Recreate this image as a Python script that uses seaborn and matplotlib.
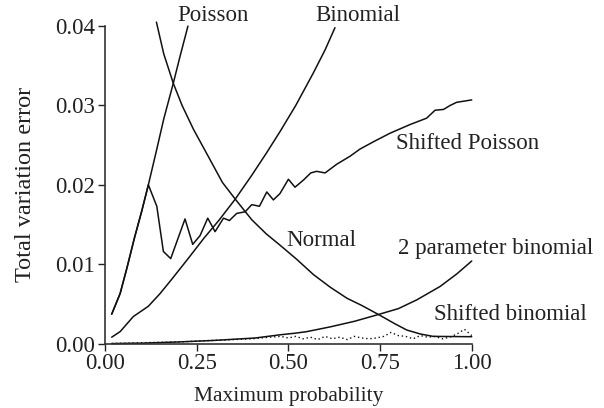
import numpy as np
import pandas as pd
import matplotlib
matplotlib.use("Agg")
import matplotlib.pyplot as plt
import seaborn as sns

# ---- data ----
poisson_x = [0.018, 0.041, 0.06, 0.08, 0.10, 0.118, 0.14, 0.16, 0.186, 0.205, 0.226]
poisson_y = [0.0037, 0.0063, 0.0096, 0.0133, 0.0167, 0.0200, 0.0243, 0.0283, 0.0328, 0.0363, 0.0400]

shpois_x = [0.018, 0.041, 0.06, 0.08, 0.10, 0.118, 0.141, 0.159, 0.179, 0.218, 0.239, 0.259,
            0.280, 0.300, 0.323, 0.339, 0.359, 0.382, 0.400, 0.421, 0.441, 0.459, 0.477,
            0.500, 0.518, 0.541, 0.561, 0.577, 0.600, 0.632, 0.668, 0.695, 0.735, 0.777,
            0.832, 0.877, 0.900, 0.923, 0.941, 0.959, 1.0]
shpois_y = [0.0037, 0.0063, 0.0096, 0.0133, 0.0167, 0.0200, 0.0173, 0.0116, 0.0107, 0.0157,
            0.0125, 0.0136, 0.0158, 0.0141, 0.0158, 0.0155, 0.0164, 0.0166, 0.0175, 0.0173,
            0.0191, 0.0181, 0.0189, 0.0207, 0.0197, 0.0206, 0.0215, 0.0217, 0.0215, 0.0226,
            0.0236, 0.0245, 0.0255, 0.0265, 0.0276, 0.0284, 0.0294, 0.0295, 0.0300, 0.0304,
            0.0307]

binom_x = [0.018, 0.041, 0.077, 0.118, 0.15, 0.18, 0.223, 0.27, 0.31, 0.355, 0.40, 0.44,
           0.477, 0.52, 0.568, 0.60, 0.627]
binom_y = [0.0008, 0.0015, 0.0034, 0.0047, 0.0063, 0.0080, 0.0105, 0.0133, 0.0155, 0.0182,
           0.0212, 0.0240, 0.0267, 0.0300, 0.0341, 0.0370, 0.0398]

normal_x = [0.14, 0.16, 0.186, 0.21, 0.241, 0.28, 0.32, 0.355, 0.40, 0.44, 0.477, 0.523,
            0.568, 0.614, 0.66, 0.70, 0.748, 0.79, 0.823, 0.86, 0.895, 0.95, 1.0]
normal_y = [0.0405, 0.0365, 0.0328, 0.0300, 0.0270, 0.0237, 0.0203, 0.0182, 0.0156, 0.0138,
            0.0124, 0.0106, 0.0087, 0.0071, 0.0057, 0.0048, 0.0036, 0.0025, 0.0017, 0.0012,
            0.0009, 0.00088, 0.00086]

twopar_x = [0.018, 0.1, 0.2, 0.25, 0.3, 0.41, 0.477, 0.518, 0.55, 0.614, 0.68, 0.741,
            0.80, 0.85, 0.914, 0.96, 1.0]
twopar_y = [0.0, 0.00005, 0.0002, 0.0003, 0.0004, 0.0007, 0.0011, 0.0013, 0.0015, 0.0021,
            0.0028, 0.0036, 0.0044, 0.0055, 0.0072, 0.0088, 0.0104]

shbin_x = [0.018, 0.1, 0.2, 0.3, 0.4, 0.45, 0.48, 0.50, 0.52, 0.54, 0.56, 0.58, 0.60, 0.62,
           0.64, 0.66, 0.68, 0.70, 0.72, 0.74, 0.76, 0.78, 0.80, 0.82, 0.84, 0.86, 0.88,
           0.90, 0.92, 0.94, 0.96, 0.98, 1.0]
shbin_y = [0.0, 0.0001, 0.0002, 0.0004, 0.0006, 0.0008, 0.0009, 0.0007, 0.0009, 0.0006,
           0.0008, 0.0005, 0.0009, 0.0006, 0.0008, 0.0005, 0.0009, 0.0007, 0.0006, 0.0007,
           0.0009, 0.0014, 0.0010, 0.0009, 0.0006, 0.0010, 0.0008, 0.0009, 0.0006, 0.0008,
           0.0012, 0.0018, 0.0010]

labels = ["Poisson", "Binomial", "Shifted Poisson", "Normal",
          "2 parameter binomial", "Shifted binomial"]
label_xy = [(0.198, 0.0414), (0.573, 0.0414), (0.794, 0.0252), (0.495, 0.0130),
            (0.800, 0.0120), (0.898, 0.0036)]

# ---- plot ----
sns.set_style("ticks")
plt.rcParams["font.family"] = ["Liberation Serif", "DejaVu Serif"]
plt.rcParams["font.size"] = 15

fig = plt.figure(figsize=(6.04, 4.08), dpi=100)
ax = fig.add_axes([0.174, 0.158, 0.607, 0.778])

ink = "#111111"
for xs, ys in [(poisson_x, poisson_y), (shpois_x, shpois_y), (binom_x, binom_y),
               (normal_x, normal_y), (twopar_x, twopar_y)]:
    sns.lineplot(x=xs, y=ys, ax=ax, color=ink, lw=1.1, estimator=None, sort=False,
                 clip_on=False)
# shifted binomial is drawn dotted
sns.lineplot(x=shbin_x, y=shbin_y, ax=ax, color=ink, lw=1.0, ls=(0, (1, 2)),
             estimator=None, sort=False, clip_on=False)

for txt, (tx, ty) in zip(labels, label_xy):
    ax.text(tx, ty, txt, ha="left", va="center", color="#222222", fontsize=16.5,
            clip_on=False)

ax.set_xlim(0, 1)
ax.set_ylim(0, 0.04)
ax.set_xticks([0, 0.25, 0.5, 0.75, 1.0])
ax.set_xticklabels(["0.00", "0.25", "0.50", "0.75", "1.00"])
ax.set_yticks([0, 0.01, 0.02, 0.03, 0.04])
ax.set_yticklabels(["0.00", "0.01", "0.02", "0.03", "0.04"])
ax.tick_params(length=5, width=1, colors="#222222", labelsize=16.5, pad=2)
for s in ["left", "bottom"]:
    ax.spines[s].set_color("#333333")
    ax.spines[s].set_linewidth(1.2)
sns.despine(ax=ax)
ax.set_xlabel("Maximum probability", fontsize=15.5, color="#222222", labelpad=9)
ax.set_ylabel("Total variation error", fontsize=17.5, color="#222222", labelpad=14)

fig.savefig("out.png", dpi=100)
